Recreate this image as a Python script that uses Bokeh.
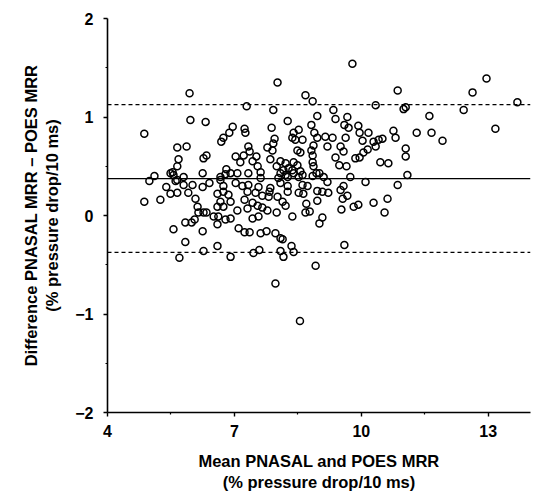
from bokeh.plotting import figure
from bokeh.models import FixedTicker, Span, ColumnDataSource
from bokeh.embed import file_html
from bokeh.resources import INLINE

# Mean of the two methods (x) and difference (y)
mean_vals = [
    4.87, 5.65, 5.11, 5.54, 5.65, 5.68, 4.99, 4.87, 5.25, 5.39, 5.49, 5.65, 5.56, 5.70, 5.49, 5.65,
    5.94, 8.02, 7.29, 7.92, 5.96, 6.32, 8.26, 6.96, 6.88, 6.74, 6.69, 7.24, 7.26, 7.88, 7.95, 7.92,
    7.90, 7.78, 5.87, 7.33, 7.36, 6.27, 6.34, 7.03, 7.22, 7.52, 7.14, 7.43, 7.55, 7.62, 7.85, 8.09,
    8.21, 8.00, 8.28, 6.25, 6.81, 6.91, 6.67, 5.56, 5.80, 8.09,
    9.79, 8.68, 8.85, 10.34, 10.86, 8.96, 9.34, 9.39, 9.67, 8.82, 9.60, 9.70, 9.93, 10.17, 10.76, 10.81,
    8.40, 8.52, 8.37, 8.44, 8.61, 8.89, 8.96, 9.15, 9.32, 9.63, 9.96, 10.03, 10.29, 10.41, 10.50, 8.87,
    9.20, 9.51, 9.58, 10.34, 8.49, 8.56, 8.82, 10.15, 10.05, 8.85, 9.86, 9.96, 9.39, 8.40, 8.49, 8.85,
    10.45, 10.64, 9.48, 9.65, 8.16, 8.37, 8.56, 8.87, 8.94, 9.74, 8.26, 8.52,
    12.96, 12.63, 13.69, 12.42, 11.05, 11.00, 11.61, 11.31, 11.66, 11.92, 13.17, 11.05, 11.05, 11.09,
    6.79, 7.07, 7.33, 7.62, 8.04, 8.21, 5.61, 5.80, 6.01, 6.25, 6.41, 6.67, 6.74, 7.03, 7.19, 7.33,
    7.57, 7.85, 8.09, 8.26, 5.91, 6.60, 6.74, 6.86, 7.31, 7.50, 7.66, 7.83, 7.81, 8.02, 6.08, 6.67,
    6.91, 7.24, 7.43, 7.55, 6.13, 6.60, 6.74, 7.31, 7.66, 7.78, 8.00, 8.21, 7.07, 6.15, 6.27, 6.34,
    6.51, 6.62, 6.79, 6.91, 7.43, 7.57, 5.84, 5.99, 6.06, 6.60, 6.25, 7.10, 7.24, 7.36, 7.62, 7.76,
    7.97, 8.09, 5.84, 6.60, 6.27, 7.59, 7.45, 8.09, 6.91, 8.16, 7.97,
    8.40, 8.61, 8.85, 9.01, 9.11, 9.20, 10.10, 10.86, 8.61, 8.73, 9.58, 9.51, 8.26, 8.52, 8.63, 8.96,
    9.08, 9.22, 9.67, 9.56, 10.62, 10.29, 9.93, 9.82, 8.14, 8.70, 8.96, 9.53, 8.68, 8.78, 10.55, 8.37,
    9.08, 9.01, 8.14, 8.35, 8.40, 9.60, 8.92, 8.55,
]
diff_vals = [
    0.83, 0.69, 0.40, 0.44, 0.50, 0.57, 0.35, 0.14, 0.16, 0.29, 0.22, 0.23, -0.14, -0.43, 0.43, 0.36,
    1.24, 1.35, 1.11, 1.07, 0.97, 0.95, 0.96, 0.90, 0.84, 0.79, 0.75, 0.88, 0.84, 0.89, 0.78, 0.73,
    0.66, 0.69, 0.70, 0.70, 0.65, 0.58, 0.61, 0.60, 0.61, 0.60, 0.54, 0.55, 0.50, 0.44, 0.57, 0.55,
    0.53, 0.50, 0.48, 0.43, 0.47, 0.43, 0.39, 0.41, 0.39, 0.43,
    1.54, 1.22, 1.16, 1.12, 1.27, 1.01, 1.07, 0.98, 1.00, 0.92, 0.92, 0.89, 0.91, 0.84, 0.86, 0.79,
    0.84, 0.87, 0.79, 0.77, 0.77, 0.84, 0.79, 0.80, 0.79, 0.79, 0.84, 0.76, 0.75, 0.77, 0.78, 0.71,
    0.70, 0.70, 0.65, 0.70, 0.66, 0.64, 0.66, 0.67, 0.64, 0.61, 0.58, 0.59, 0.59, 0.54, 0.51, 0.54,
    0.54, 0.53, 0.51, 0.50, 0.46, 0.46, 0.45, 0.50, 0.43, 0.39, 0.39, 0.39,
    1.39, 1.25, 1.15, 1.07, 1.10, 1.08, 1.01, 0.84, 0.84, 0.76, 0.88, 0.68, 0.60, 0.41,
    0.42, 0.43, 0.43, 0.38, 0.38, 0.41, 0.35, 0.31, 0.31, 0.29, 0.33, 0.36, 0.30, 0.33, 0.30, 0.31,
    0.29, 0.28, 0.33, 0.30, 0.23, 0.22, 0.24, 0.21, 0.24, 0.23, 0.20, 0.24, 0.19, 0.19, 0.17, 0.14,
    0.14, 0.16, 0.13, 0.10, 0.09, 0.09, 0.09, 0.07, 0.08, 0.05, 0.03, 0.10, 0.05, 0.03, 0.03, 0.03,
    -0.01, -0.01, -0.04, -0.03, -0.03, -0.01, -0.07, -0.07, -0.04, -0.09, -0.16, -0.13, -0.17, -0.17, -0.18, -0.16,
    -0.18, -0.23, -0.27, -0.31, -0.36, -0.35, -0.38, -0.36, -0.42, -0.42, -0.69,
    0.43, 0.41, 0.40, 0.43, 0.39, 0.34, 0.34, 0.31, 0.31, 0.30, 0.30, 0.26, 0.24, 0.23, 0.22, 0.25,
    0.24, 0.23, 0.20, 0.17, 0.17, 0.13, 0.11, 0.09, 0.14, 0.12, 0.15, 0.06, 0.03, 0.04, 0.03, -0.01,
    -0.02, -0.08, -0.24, -0.31, -0.37, -0.30, -0.51, -1.07,
]
filled_x = [3.80]
filled_y = [-1.87]

mean_diff = 0.375
upper_limit = 1.125
lower_limit = -0.375

x_ticks = [4, 7, 10, 13]
x_minor = [5.5, 8.5, 11.5]
y_ticks = [-2, -1, 0, 1, 2]
y_minor = [-1.5, -0.5, 0.5, 1.5]

FONT = "Liberation Sans"

p = figure(width=533, height=494, x_range=(4, 14), y_range=(-2, 2),
           output_backend="svg", toolbar_location=None,
           min_border_left=107, min_border_right=3, min_border_top=18, min_border_bottom=80)
p.outline_line_color = None
p.xgrid.visible = False
p.ygrid.visible = False
p.background_fill_color = "white"
p.border_fill_color = "white"

for sp in [Span(location=mean_diff, dimension="width", line_color="black", line_width=1.3),
           Span(location=upper_limit, dimension="width", line_color="black", line_width=1.3, line_dash="4 3"),
           Span(location=lower_limit, dimension="width", line_color="black", line_width=1.3, line_dash="4 3")]:
    p.add_layout(sp)

src = ColumnDataSource(dict(x=mean_vals, y=diff_vals))
p.scatter("x", "y", source=src, size=7, marker="circle", fill_color=None,
          line_color="black", line_width=1.5)
p.scatter(filled_x, filled_y, size=9, marker="circle", fill_color="black", line_color="black")

p.xaxis.ticker = FixedTicker(ticks=x_ticks, minor_ticks=x_minor)
p.yaxis.ticker = FixedTicker(ticks=y_ticks, minor_ticks=y_minor)
p.yaxis.major_label_overrides = {-2: "\u22122", -1: "\u22121"}

for ax in (p.xaxis[0], p.yaxis[0]):
    ax.axis_line_width = 1.6
    ax.axis_line_color = "black"
    ax.major_tick_in = 0
    ax.major_tick_out = 4
    ax.minor_tick_in = 0
    ax.minor_tick_out = 2
    ax.major_tick_line_width = 1.4
    ax.minor_tick_line_width = 1.2
    ax.major_label_text_font = FONT
    ax.major_label_text_font_style = "bold"
    ax.major_label_text_font_size = "16px"
    ax.major_label_text_color = "black"
    ax.axis_label_text_font = FONT
    ax.axis_label_text_font_style = "bold"
    ax.axis_label_text_font_size = "16.5px"
    ax.axis_label_text_color = "black"

p.xaxis.axis_label = "Mean PNASAL and POES MRR\n(% pressure drop/10 ms)"
p.yaxis.axis_label = "Difference PNASAL MRR \u2013 POES MRR\n(% pressure drop/10 ms)"
p.xaxis.major_label_standoff = 8
p.yaxis.major_label_standoff = 10
p.xaxis.axis_label_standoff = 12
p.yaxis.axis_label_standoff = 11

open("out.html", "w").write(file_html(p, INLINE))
